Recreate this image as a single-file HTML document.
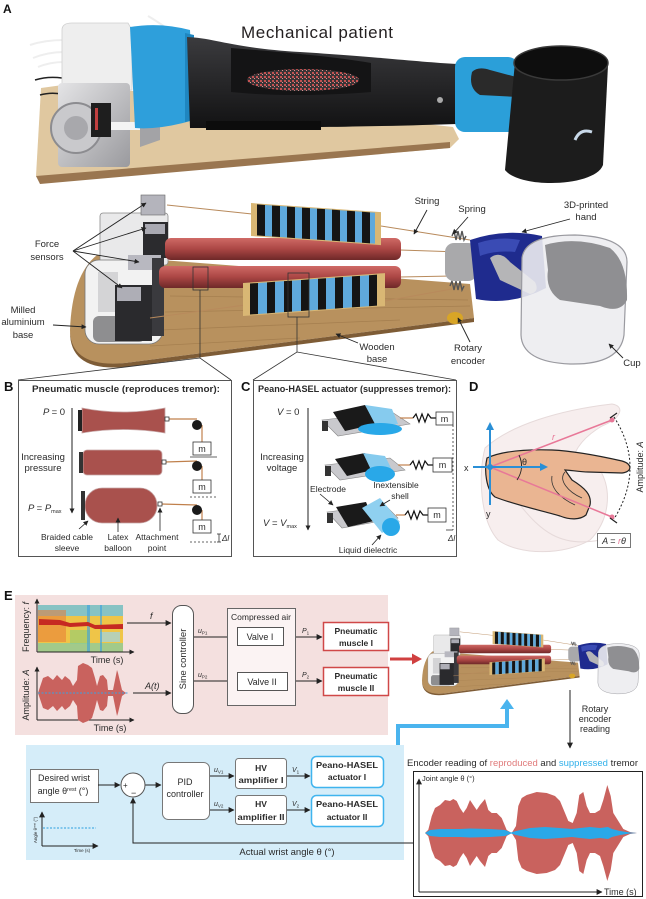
<!DOCTYPE html>
<html><head><meta charset="utf-8"><style>
html,body{margin:0;padding:0;background:#fff}
svg{display:block}
text{font-family:"Liberation Sans",sans-serif;fill:#2a2a2a}
</style></head><body>
<svg width="646" height="899" viewBox="0 0 646 899" xmlns="http://www.w3.org/2000/svg">
<defs>
<marker id="a" viewBox="0 0 10 10" refX="9" refY="5" markerWidth="5" markerHeight="5" orient="auto" markerUnits="userSpaceOnUse"><path d="M0,0L10,5L0,10z" fill="#222"/></marker>
<marker id="b" viewBox="0 0 10 10" refX="9" refY="5" markerWidth="6" markerHeight="6" orient="auto" markerUnits="userSpaceOnUse"><path d="M0,0L10,5L0,10z" fill="#222"/></marker>
<linearGradient id="tube" x1="0" y1="0" x2="0" y2="1"><stop offset="0" stop-color="#cf6a66"/><stop offset=".5" stop-color="#ab4644"/><stop offset="1" stop-color="#6e2828"/></linearGradient>
<linearGradient id="arm" x1="0" y1="0" x2="0" y2="1"><stop offset="0" stop-color="#3b3b3e"/><stop offset="1" stop-color="#121213"/></linearGradient>
<linearGradient id="silver" x1="0" y1="0" x2="1" y2="1"><stop offset="0" stop-color="#e4e4e6"/><stop offset="1" stop-color="#9a9a9e"/></linearGradient>
<pattern id="braid" width="4" height="4" patternUnits="userSpaceOnUse"><rect width="4" height="4" fill="#3a3436"/><rect width="2" height="2" fill="#c45252"/><rect x="2" y="2" width="1" height="1" fill="#e09090"/></pattern>
<g id="dev">
 <path d="M97,255 L470,284 L474,318 L125,363 Q70,370 70,330 Q72,275 97,255 Z" fill="#b8915e"/>
 <path d="M70,332 Q70,372 125,367 L474,322 L474,318 L125,363 Q72,368 70,332Z" fill="#7e5c36"/>
 <g stroke="#9a7446" stroke-width="0.8" opacity="0.6" fill="none">
  <path d="M170,296 L468,300"/><path d="M165,312 L470,306"/><path d="M160,330 L400,320"/><path d="M150,346 L300,338"/>
 </g>
 <rect x="100" y="213" width="68" height="52" rx="3" fill="#e9e9ea" stroke="#8a8a8a" stroke-width="0.8"/>
 <rect x="85" y="260" width="78" height="84" rx="14" fill="#f2f2f2" stroke="#777" stroke-width="0.8"/>
 <rect x="93" y="316" width="52" height="26" rx="6" fill="#8e8e90"/>
 <rect x="98" y="272" width="20" height="40" fill="#d4d4d6"/>
 <rect x="141" y="195" width="24" height="20" fill="#b4b4bc" stroke="#666" stroke-width=".6"/>
 <rect x="143" y="222" width="25" height="36" fill="#2b2b2e"/>
 <rect x="145" y="224" width="20" height="10" fill="#a9a9b2"/>
 <rect x="128" y="255" width="33" height="15" fill="#b8b8c0"/>
 <rect x="115" y="285" width="37" height="56" fill="#2a2a2d"/>
 <rect x="117" y="287" width="24" height="14" fill="#aeaeb6"/>
 <rect x="152" y="258" width="12" height="78" fill="#3a3a3e"/>
 <g stroke="#b88a5c" stroke-width="1.1">
  <line x1="167" y1="205" x2="252" y2="214"/>
  <line x1="381" y1="226" x2="470" y2="240"/>
  <line x1="400" y1="250" x2="460" y2="252"/>
  <line x1="400" y1="277" x2="452" y2="276"/>
  <line x1="385" y1="301" x2="452" y2="289"/>
  <line x1="150" y1="318" x2="245" y2="305"/>
 </g>
 <rect x="165" y="238" width="236" height="22" rx="6" fill="url(#tube)"/>
 <rect x="159" y="266" width="242" height="22" rx="6" fill="url(#tube)"/>
 <g transform="translate(251,203) skewY(4)">
  <rect x="0" y="0" width="130" height="33" fill="#d9b774"/>
  <g>
   <rect x="6" y="1" width="8" height="31" fill="#151515"/><rect x="14" y="1" width="7" height="31" fill="#5fa9dc"/>
   <rect x="21" y="1" width="8" height="31" fill="#151515"/><rect x="29" y="1" width="7" height="31" fill="#5fa9dc"/>
   <rect x="36" y="1" width="8" height="31" fill="#151515"/><rect x="44" y="1" width="7" height="31" fill="#5fa9dc"/>
   <rect x="51" y="1" width="8" height="31" fill="#151515"/><rect x="59" y="1" width="7" height="31" fill="#5fa9dc"/>
   <rect x="66" y="1" width="8" height="31" fill="#151515"/><rect x="74" y="1" width="7" height="31" fill="#5fa9dc"/>
   <rect x="81" y="1" width="8" height="31" fill="#151515"/><rect x="89" y="1" width="7" height="31" fill="#5fa9dc"/>
   <rect x="96" y="1" width="8" height="31" fill="#151515"/><rect x="104" y="1" width="7" height="31" fill="#5fa9dc"/>
   <rect x="111" y="1" width="8" height="31" fill="#151515"/><rect x="119" y="1" width="5" height="31" fill="#5fa9dc"/>
  </g>
 </g>
 <g transform="translate(243,283) skewY(-4)">
  <rect x="0" y="0" width="142" height="33" fill="#d9b774"/>
  <rect x="7" y="1" width="8" height="31" fill="#151515"/><rect x="15" y="1" width="9" height="31" fill="#5fa9dc"/>
  <rect x="24" y="1" width="8" height="31" fill="#151515"/><rect x="32" y="1" width="9" height="31" fill="#5fa9dc"/>
  <rect x="41" y="1" width="8" height="31" fill="#151515"/><rect x="49" y="1" width="9" height="31" fill="#5fa9dc"/>
  <rect x="58" y="1" width="8" height="31" fill="#151515"/><rect x="66" y="1" width="9" height="31" fill="#5fa9dc"/>
  <rect x="75" y="1" width="8" height="31" fill="#151515"/><rect x="83" y="1" width="9" height="31" fill="#5fa9dc"/>
  <rect x="92" y="1" width="8" height="31" fill="#151515"/><rect x="100" y="1" width="9" height="31" fill="#5fa9dc"/>
  <rect x="109" y="1" width="8" height="31" fill="#151515"/><rect x="117" y="1" width="9" height="31" fill="#5fa9dc"/>
  <rect x="126" y="1" width="8" height="31" fill="#151515"/>
 </g>
 <polyline points="452,236 454,231 456,240 458,231 460,240 462,231 464,240 466,236" fill="none" stroke="#555" stroke-width="1.4"/>
 <polyline points="450,286 452,281 454,290 456,281 458,290 460,281 462,290 464,286" fill="none" stroke="#555" stroke-width="1.4"/>
 <rect x="445" y="243" width="32" height="38" rx="9" fill="#a9a9ab"/>
 <path d="M470,240 Q505,228 542,236 L546,288 Q512,306 476,299 Z" fill="#1f2b8e"/>
 <path d="M478,243 Q500,236 520,240 L515,252 Q495,250 480,256 Z" fill="#3a4bb4"/>
 <path d="M490,258 Q500,250 510,262 L535,282 Q540,292 530,294 L500,280 Z" fill="#b5b5b7"/>
 <path d="M522,258 Q525,235 575,235 Q627,237 627,262 L624,335 Q620,365 570,364 Q522,362 521,335 Z" fill="#ececef" fill-opacity=".9" stroke="#9a9aa0" stroke-width="1.2"/>
 <path d="M545,245 Q575,236 610,248 Q628,262 627,300 Q620,314 600,306 L560,300 Q545,290 548,270 Z" fill="#8f8f92"/>
 <ellipse cx="455" cy="318" rx="8" ry="6" fill="#d8a526"/>
</g>
</defs>

<!-- ===== Panel A photo ===== -->
<text x="3" y="13" font-size="12" font-weight="bold" style="fill:#111">A</text>
<polygon points="41,88 70,84 453,127 459,139 450,148 40,183 36,176" fill="#e0c8a0"/>
<polygon points="36,176 450,142 450,148 40,184" fill="#9a7650"/>
<g stroke="#eee" stroke-width="2" fill="none">
 <path d="M30,45 Q45,40 64,40"/><path d="M33,58 Q48,52 64,52"/><path d="M38,67 Q50,62 64,62"/><path d="M148,16 Q155,20 165,27"/>
</g>
<g stroke="#222" stroke-width="1.5" fill="none"><path d="M35,80 Q48,76 62,78"/><path d="M40,95 Q50,92 62,94"/></g>
<path d="M62,30 Q62,23 72,23 L128,23 L132,30 L132,90 L62,90 Z" fill="#eeeeee" stroke="#d0d0d0" stroke-width=".8"/>
<rect x="58" y="83" width="72" height="84" rx="4" fill="url(#silver)"/>
<circle cx="76" cy="128" r="25" fill="#c9c9cc" stroke="#8c8c90" stroke-width="2"/>
<circle cx="76" cy="128" r="12" fill="#a8a8ac"/>
<rect x="91" y="103" width="20" height="34" fill="#1e1e1e"/>
<rect x="95" y="108" width="3" height="22" fill="#c04040"/>
<rect x="111" y="122" width="33" height="8" fill="#f4f4f4"/>
<path d="M140,100 L170,100 L173,112 L160,115 L160,140 L140,147 Z" fill="#a3a3a6"/>
<path d="M130,27 Q160,22 190,30 L194,120 Q160,130 135,128 Z" fill="#2e9fdb"/>
<path d="M185,33 L194,35 L194,120 L185,122 Z" fill="#1f86c0"/>
<path d="M187,37 C215,38 232,48 300,52 C380,57 420,62 457,64 L457,124 C400,126 300,128 190,128 Z" fill="url(#arm)"/>
<path d="M231,48 C280,52 330,56 371,63 L371,92 C320,96 270,96 231,92 Z" fill="#141415"/>
<ellipse cx="303" cy="80" rx="56" ry="11" fill="url(#braid)"/>
<rect x="206" y="121" width="115" height="9" fill="#0c0c0c"/>
<circle cx="440" cy="100" r="3" fill="#aaa"/>
<rect x="455" y="57" width="63" height="75" rx="10" fill="#2b9fd9"/>
<path d="M472,72 Q478,66 490,70 L520,78 Q528,90 518,97 L480,95 Q468,88 472,72 Z" fill="#2a2a2a"/>
<path d="M515,62 C540,42 600,45 608,65 L603,165 C595,187 520,189 505,170 Z" fill="#1c1c1c"/>
<ellipse cx="561" cy="63" rx="47" ry="17" fill="#0e0e0e" stroke="#3a3a3a" stroke-width="1.5"/>
<path d="M575,140 Q580,128 592,132" stroke="#c8d8e8" stroke-width="3" fill="none"/>
<text x="317" y="38" font-size="17" text-anchor="middle" textLength="152" style="fill:#231f20">Mechanical patient</text>

<!-- ===== Panel A render ===== -->
<use href="#dev"/>
<rect x="193" y="267" width="15" height="23" fill="none" stroke="#333" stroke-width=".8"/>
<rect x="288" y="273" width="21" height="44" fill="none" stroke="#333" stroke-width=".8"/>
<g stroke="#333" stroke-width=".8" fill="none">
 <polyline points="18,380 200,358 231,380"/><line x1="200" y1="290" x2="200" y2="358"/>
 <polyline points="253,380 297,352 456,380"/><line x1="297" y1="317" x2="297" y2="352"/>
</g>
<g stroke="#222" stroke-width=".9" marker-end="url(#a)">
 <line x1="73" y1="251" x2="146" y2="203"/>
 <line x1="73" y1="251" x2="146" y2="228"/>
 <line x1="73" y1="251" x2="139" y2="262"/>
 <line x1="73" y1="251" x2="122" y2="288"/>
 <line x1="53" y1="325" x2="86" y2="327"/>
 <line x1="427" y1="210" x2="414" y2="234"/>
 <line x1="468" y1="217" x2="453" y2="234"/>
 <line x1="570" y1="219" x2="522" y2="232"/>
 <line x1="358" y1="343" x2="336" y2="334"/>
 <line x1="470" y1="342" x2="458" y2="318"/>
 <line x1="623" y1="358" x2="609" y2="344"/>
</g>
<g font-size="9.5" text-anchor="middle">
 <text x="47" y="247">Force</text><text x="47" y="260">sensors</text>
 <text x="23" y="313">Milled</text><text x="23" y="325">aluminium</text><text x="23" y="338">base</text>
 <text x="427" y="204">String</text><text x="472" y="212">Spring</text>
 <text x="586" y="208">3D-printed</text><text x="586" y="220">hand</text>
 <text x="377" y="350">Wooden</text><text x="377" y="362">base</text>
 <text x="468" y="351">Rotary</text><text x="468" y="364">encoder</text>
 <text x="632" y="366">Cup</text>
</g>

<!-- ===== Panels B C D ===== -->
<g font-size="13" font-weight="bold"><text x="4" y="391" style="fill:#111">B</text><text x="241" y="391" style="fill:#111">C</text><text x="469" y="391" style="fill:#111">D</text></g>
<rect x="18.5" y="380.5" width="213" height="176" fill="none" stroke="#555" stroke-width="1"/>
<rect x="253.5" y="380.5" width="203" height="176" fill="none" stroke="#555" stroke-width="1"/>
<text x="32" y="392" font-size="9.5" font-weight="bold" textLength="188" lengthAdjust="spacingAndGlyphs">Pneumatic muscle (reproduces tremor):</text>
<text x="258" y="392" font-size="9.5" font-weight="bold" textLength="193" lengthAdjust="spacingAndGlyphs">Peano-HASEL actuator (suppresses tremor):</text>

<!-- B -->
<g font-size="9.5">
 <text x="43" y="415" font-style="italic">P <tspan font-style="normal">= 0</tspan></text>
 <text x="43" y="460" text-anchor="middle">Increasing</text><text x="43" y="471" text-anchor="middle">pressure</text>
 <text x="28" y="511" font-style="italic">P <tspan font-style="normal">=</tspan> P<tspan font-size="5.5" dy="2" font-style="normal">max</tspan></text>
</g>
<line x1="72" y1="408" x2="72" y2="513" stroke="#222" stroke-width="1" marker-end="url(#a)"/>
<path d="M82,408 Q123,416 165,408 L165,433 Q123,426 82,433 Z" fill="#a9514d" stroke="#c8a8a8" stroke-width=".8"/>
<rect x="78" y="410" width="4" height="21" fill="#222"/>
<rect x="83" y="450" width="79" height="25" rx="4" fill="#a9514d" stroke="#c8a8a8" stroke-width=".8"/>
<rect x="79" y="452" width="4" height="21" fill="#333"/>
<rect x="85" y="488" width="72" height="35" rx="17" fill="#a9514d" stroke="#c8a8a8" stroke-width=".8"/>
<rect x="81" y="491" width="4" height="29" fill="#333"/>
<g stroke="#c0804c" stroke-width="1.2">
 <line x1="168" y1="419" x2="197" y2="419"/><line x1="202" y1="425" x2="202" y2="442"/>
 <line x1="165" y1="462" x2="197" y2="461"/><line x1="202" y1="466" x2="202" y2="480"/>
 <line x1="161" y1="504" x2="197" y2="505"/><line x1="202" y1="510" x2="202" y2="520"/>
</g>
<g fill="#fff" stroke="#333" stroke-width=".8">
 <rect x="165" y="417" width="4" height="4"/><rect x="162" y="460" width="4" height="4"/><rect x="158" y="502" width="4" height="4"/>
 <rect x="193" y="442" width="18" height="13"/><rect x="193" y="480" width="18" height="13"/><rect x="193" y="520" width="18" height="13"/>
</g>
<g fill="#1a1a1a"><circle cx="197" cy="425" r="5"/><circle cx="197" cy="466" r="5"/><circle cx="197" cy="510" r="5"/></g>
<g font-size="9" text-anchor="middle"><text x="202" y="452">m</text><text x="202" y="490">m</text><text x="202" y="530">m</text></g>
<line x1="190" y1="457" x2="217" y2="457" stroke="#333" stroke-width=".8"/>
<line x1="190" y1="497" x2="216" y2="497" stroke="#333" stroke-width=".8" stroke-dasharray="2,2"/>
<line x1="190" y1="542" x2="216" y2="542" stroke="#333" stroke-width=".8" stroke-dasharray="2,2"/>
<g stroke="#333" stroke-width=".8"><line x1="219" y1="534" x2="219" y2="542"/><line x1="217" y1="534" x2="221" y2="534"/><line x1="217" y1="542" x2="221" y2="542"/></g>
<text x="222" y="541" font-size="8" font-style="italic">Δl</text>
<g stroke="#222" stroke-width=".8" marker-end="url(#a)">
 <line x1="79" y1="529" x2="88" y2="521"/><line x1="118" y1="532" x2="118" y2="518"/><line x1="160" y1="531" x2="160" y2="508"/>
</g>
<g font-size="8.5" text-anchor="middle">
 <text x="67" y="540">Braided cable</text><text x="67" y="551">sleeve</text>
 <text x="118" y="540">Latex</text><text x="118" y="551">balloon</text>
 <text x="157" y="540">Attachment</text><text x="157" y="551">point</text>
</g>

<!-- C -->
<g font-size="9.5">
 <text x="277" y="415" font-style="italic">V <tspan font-style="normal">= 0</tspan></text>
 <text x="282" y="460" text-anchor="middle">Increasing</text><text x="282" y="471" text-anchor="middle">voltage</text>
 <text x="263" y="526" font-style="italic">V <tspan font-style="normal">=</tspan> V<tspan font-size="5.5" dy="2" font-style="normal">max</tspan></text>
</g>
<line x1="308" y1="408" x2="308" y2="530" stroke="#222" stroke-width="1" marker-end="url(#a)"/>
<!-- actuator 1 -->
<polygon points="322,420 392,412 410,424 338,436" fill="#c9c9cd" stroke="#888" stroke-width=".6"/>
<rect x="322" y="421" width="6" height="10" fill="#333"/>
<polygon points="333,412 365,405 376,424 345,431" fill="#1a1a1a"/>
<polygon points="365,405 392,409 398,424 376,426" fill="#86cbee"/>
<ellipse cx="380" cy="429" rx="22" ry="6" fill="#29a8e8"/>
<!-- actuator 2 -->
<polygon points="325,465 390,458 405,470 340,480" fill="#c9c9cd" stroke="#888" stroke-width=".6"/>
<rect x="325" y="466" width="6" height="10" fill="#333"/>
<polygon points="335,459 365,453 373,470 347,476" fill="#1a1a1a"/>
<polygon points="363,453 385,456 392,470 372,472" fill="#86cbee"/>
<ellipse cx="380" cy="474" rx="15" ry="8" fill="#29a8e8"/>
<!-- actuator 3 -->
<polygon points="327,512 385,505 398,518 342,528" fill="#c9c9cd" stroke="#888" stroke-width=".6"/>
<rect x="327" y="513" width="6" height="10" fill="#333"/>
<polygon points="336,507 366,502 374,521 348,527" fill="#1a1a1a"/>
<polygon points="362,508 380,498 400,522 382,533" fill="#8fd0f0"/>
<ellipse cx="391" cy="527" rx="9" ry="9" fill="#29a8e8"/>
<g stroke="#c0804c" stroke-width="1.2"><line x1="400" y1="418" x2="413" y2="418"/><line x1="398" y1="465" x2="410" y2="465"/><line x1="396" y1="515" x2="405" y2="515"/></g>
<g fill="none" stroke="#111" stroke-width="1.2">
 <polyline points="413,418 416,414 419,422 422,414 425,422 428,414 431,418 436,418"/>
 <polyline points="410,465 413,461 416,469 419,461 422,469 425,461 428,465 433,465"/>
 <polyline points="405,515 408,511 411,519 414,511 417,519 420,511 423,515 428,515"/>
</g>
<g fill="#fff" stroke="#333" stroke-width=".8"><rect x="436" y="412" width="17" height="13"/><rect x="433" y="458" width="19" height="14"/><rect x="428" y="508" width="18" height="14"/></g>
<g font-size="9" text-anchor="middle"><text x="444.5" y="422">m</text><text x="442.5" y="468">m</text><text x="437" y="518">m</text></g>
<line x1="453" y1="425" x2="453" y2="530" stroke="#333" stroke-width=".8" stroke-dasharray="2,2"/>
<g stroke="#333" stroke-width=".8"><line x1="446" y1="530" x2="453" y2="530"/></g>
<text x="448" y="541" font-size="8" font-style="italic">Δl</text>
<g stroke="#222" stroke-width=".8" marker-end="url(#a)">
 <line x1="320" y1="494" x2="333" y2="505"/><line x1="390" y1="500" x2="380" y2="506"/><line x1="372" y1="545" x2="381" y2="535"/>
</g>
<g font-size="8.5" text-anchor="middle">
 <text x="328" y="492">Electrode</text>
 <text x="396" y="488">Inextensible</text><text x="400" y="499">shell</text>
 <text x="368" y="553">Liquid dielectric</text>
</g>

<!-- D -->
<path d="M485,448 C510,425 560,410 612,404 C625,406 622,418 602,426 C585,436 575,448 572,462 L600,470 C612,490 610,520 590,540 C565,555 520,556 498,540 C480,520 478,475 485,448 Z" fill="#f7eeee" stroke="#e6dada" stroke-width="1"/>
<path d="M520,505 C540,530 560,548 600,540" fill="none" stroke="#e6dada" stroke-width="1"/>
<path d="M487,458 C500,452 520,449 552,450 C575,451 600,456 622,461 C633,464 632,472 622,473 L588,472 C580,472 570,470 565,470 L572,480 C585,488 592,495 590,505 L586,515 C580,520 570,520 560,516 C540,510 515,505 495,497 C486,490 484,470 487,458 Z" fill="#eab592" stroke="#222" stroke-width="1.2"/>
<g fill="none" stroke="#333" stroke-width=".8"><path d="M565,472 C558,480 568,492 582,498"/><path d="M552,476 C550,488 560,498 575,505"/></g>
<g stroke="#e87898" stroke-width="1.5"><line x1="490" y1="467" x2="612" y2="420"/><line x1="490" y1="467" x2="612" y2="517"/></g>
<g fill="#e87898"><circle cx="612" cy="420" r="2.5"/><circle cx="612" cy="517" r="2.5"/></g>
<text x="552" y="440" font-size="9" font-style="italic" style="fill:#e87898">r</text>
<path d="M519,455 Q525,468 517,480" fill="none" stroke="#222" stroke-width=".9"/>
<text x="522" y="465" font-size="9">θ</text>
<path d="M614,417 Q646,467 614,519" fill="none" stroke="#222" stroke-width="1" stroke-dasharray="2,2"/>
<g stroke="#222" stroke-width="1.2"><line x1="610" y1="418" x2="617" y2="413"/><line x1="610" y1="518" x2="617" y2="523"/></g>
<g stroke="#2a8fd6" stroke-width="2"><line x1="490" y1="505" x2="490" y2="428"/><line x1="473" y1="467" x2="542" y2="467"/></g>
<polygon points="490,422 486,430 494,430" fill="#2a8fd6"/><polygon points="548,467 540,463 540,471" fill="#2a8fd6"/>
<circle cx="490" cy="467" r="3" fill="#2a8fd6"/>
<text x="464" y="471" font-size="9">x</text><text x="486" y="517" font-size="9">y</text>
<text transform="translate(643,467) rotate(-90)" font-size="9" text-anchor="middle">Amplitude: <tspan font-style="italic">A</tspan></text>
<rect x="597.5" y="533.5" width="33" height="14" fill="#fff" stroke="#555" stroke-width=".8"/>
<text x="614" y="544" font-size="9" text-anchor="middle" font-style="italic">A <tspan font-style="normal">=</tspan> <tspan style="fill:#e87898">r</tspan>θ</text>

<!-- ===== Panel E ===== -->
<text x="4" y="600" font-size="13" font-weight="bold" style="fill:#111">E</text>
<rect x="15" y="595" width="373" height="140" fill="#f4e0df"/>
<rect x="26" y="745" width="378" height="115" fill="#d5edf9"/>
<!-- spectrogram -->
<rect x="38" y="605" width="85" height="47" fill="#efc548"/>
<rect x="38" y="605" width="85" height="11" fill="#74c2da" opacity=".85"/>
<rect x="38" y="610" width="28" height="32" fill="#e87a36" opacity=".55"/>
<rect x="70" y="630" width="20" height="14" fill="#8ccf78" opacity=".6"/>
<rect x="100" y="632" width="20" height="10" fill="#9fd4e6" opacity=".7"/>
<rect x="38" y="643" width="85" height="9" fill="#88cba0" opacity=".75"/>
<rect x="87" y="605" width="3" height="47" fill="#3aa0e0" opacity=".6"/><rect x="100" y="605" width="2" height="47" fill="#3aa0e0" opacity=".6"/>
<path d="M39,619 L60,620 L70,623 L88,622 L95,625 L123,624 L123,629 L95,629 L88,626 L70,627 L60,625 L39,625Z" fill="#c62a22"/>
<g stroke="#222" stroke-width="1" marker-end="url(#a)">
 <line x1="37" y1="652" x2="37" y2="599"/><line x1="37" y1="652" x2="134" y2="652"/>
 <line x1="37" y1="720" x2="37" y2="667"/><line x1="37" y1="720" x2="134" y2="720"/>
</g>
<path d="M38,693 L43,678 L48,676 L53,680 L57,675 L62,680 L65,676 L70,680 L73,686 L77,680 L78,666 L83,663 L88,665 L92,668 L95,678 L97,686 L100,676 L103,675 L107,680 L108,690 L113,690 L117,670 L118,673 L122,690 L126,693 L122,696 L118,713 L117,716 L113,696 L108,696 L107,706 L103,711 L100,710 L97,700 L95,708 L92,718 L88,721 L83,723 L78,720 L77,706 L73,700 L70,706 L65,710 L62,706 L57,711 L53,706 L48,710 L43,708 Z" fill="#c9625e"/>
<line x1="38" y1="693" x2="128" y2="693" stroke="#3aa0e0" stroke-width="1" stroke-dasharray="2,1.5"/>
<g font-size="9">
 <text transform="translate(29,627) rotate(-90)" text-anchor="middle">Frequency: <tspan font-style="italic">f</tspan></text>
 <text transform="translate(29,695) rotate(-90)" text-anchor="middle">Amplitude: <tspan font-style="italic">A</tspan></text>
 <text x="107" y="663" text-anchor="middle">Time (s)</text>
 <text x="110" y="731" text-anchor="middle">Time (s)</text>
 <text x="150" y="619" font-style="italic">f</text>
 <text x="145" y="689" font-style="italic">A(t)</text>
</g>
<g stroke="#222" stroke-width="1" marker-end="url(#b)">
 <line x1="127" y1="623" x2="171" y2="623"/><line x1="133" y1="693" x2="171" y2="693"/>
 <line x1="193" y1="637" x2="236" y2="637"/><line x1="193" y1="681" x2="236" y2="681"/>
 <line x1="283" y1="637" x2="322" y2="637"/><line x1="287" y1="681" x2="322" y2="681"/>
</g>
<rect x="172.5" y="605.5" width="21" height="108" rx="9" fill="#fff" stroke="#555"/>
<text transform="translate(186,659) rotate(-90)" font-size="9.5" text-anchor="middle">Sine controller</text>
<g font-size="7" font-style="italic">
 <text x="198" y="633">u<tspan font-size="4.5" dy="1.5" font-style="normal">P1</tspan></text>
 <text x="198" y="677">u<tspan font-size="4.5" dy="1.5" font-style="normal">P2</tspan></text>
 <text x="302" y="633">P<tspan font-size="4.5" dy="1.5" font-style="normal">1</tspan></text>
 <text x="302" y="677">P<tspan font-size="4.5" dy="1.5" font-style="normal">2</tspan></text>
</g>
<rect x="227.5" y="608.5" width="68" height="97" fill="#fbf3f3" stroke="#666"/>
<text x="261" y="620" font-size="8.5" text-anchor="middle">Compressed air</text>
<rect x="237.5" y="627.5" width="46" height="18" fill="#fff" stroke="#555"/>
<rect x="237.5" y="672.5" width="50" height="18" fill="#fff" stroke="#555"/>
<text x="260" y="640" font-size="9" text-anchor="middle">Valve I</text>
<text x="262" y="685" font-size="9" text-anchor="middle">Valve II</text>
<rect x="323.5" y="622.5" width="65" height="28" fill="#fff" stroke="#d04848" stroke-width="1.5"/>
<rect x="323.5" y="667.5" width="65" height="28" fill="#fff" stroke="#d04848" stroke-width="1.5"/>
<g font-size="8.5" font-weight="bold" text-anchor="middle">
 <text x="356" y="634">Pneumatic</text><text x="356" y="646">muscle I</text>
 <text x="356" y="679">Pneumatic</text><text x="356" y="691">muscle II</text>
</g>
<line x1="390" y1="659" x2="414" y2="659" stroke="#d04040" stroke-width="3"/>
<polygon points="422,659 412,653.5 412,664.5" fill="#d04040"/>
<use href="#dev" transform="translate(394.7,551.9) scale(0.39)"/>
<polyline points="398,745 398,726 507,726 507,708" fill="none" stroke="#4ab4ee" stroke-width="4"/>
<polygon points="507,699 500,709 514,709" fill="#4ab4ee"/>
<line x1="570" y1="690" x2="570" y2="748" stroke="#222" stroke-width="1" marker-end="url(#b)"/>
<g font-size="9" text-anchor="middle"><text x="595" y="712">Rotary</text><text x="595" y="722">encoder</text><text x="595" y="732">reading</text></g>
<text x="407" y="766" font-size="9.5" textLength="231" lengthAdjust="spacingAndGlyphs">Encoder reading of <tspan style="fill:#e07a7a">reproduced</tspan> and <tspan style="fill:#2fb0ea">suppressed</tspan> tremor</text>
<rect x="413.5" y="771.5" width="229" height="125" fill="#fff" stroke="#222"/>
<path d="M425,833 L428.3,829.7 L431.7,816.3 L435,808 L440,805 L445,800 L450,801 L453.3,799 L456.7,801 L460,808 L463.3,813 L466.7,808 L470,800 L473.3,805 L476.7,810 L480,805 L485,799 L488.3,810 L491.7,813 L496.7,813 L501.7,818 L506.7,830 L511.7,833 L516,826 L518.3,806 L521.7,798 L526.7,795 L536.7,792 L546.7,793 L555,796 L560,801 L565,813 L568.3,821 L572.7,823 L576.7,813 L579.3,795 L583.3,792 L586.7,806 L590,813 L595,813 L600,810 L603.3,800 L607.3,785 L610.7,796 L613.3,813 L618.3,821 L623.3,829 L630,832 L637,833 L630,834 L623.3,837 L618.3,845 L613.3,853 L610.7,870 L607.3,881 L603.3,866 L600,856 L595,853 L590,853 L586.7,860 L583.3,874 L579.3,871 L576.7,853 L572.7,843 L568.3,845 L565,853 L560,865 L555,870 L546.7,873 L536.7,874 L526.7,871 L521.7,868 L518.3,860 L516,840 L511.7,833 L506.7,836 L501.7,848 L496.7,853 L491.7,853 L488.3,856 L485,867 L480,861 L476.7,856 L473.3,861 L470,866 L466.7,858 L463.3,853 L460,858 L456.7,865 L453.3,867 L450,865 L445,866 L440,861 L435,858 L431.7,850 L428.3,836.3 Z" fill="#c9625e"/>
<path d="M425,833 L430,830 L440,829 L460,829 L470,828.5 L490,829 L505,830 L511,832.5 L516,831 L530,828 L545,827 L560,828 L572,829 L580,828 L590,827 L600,828 L608,827 L612,829 L620,831 L630,832.5 L637,833 L630,833.5 L620,835 L612,837 L608,839 L600,838 L590,839 L580,838 L572,837 L560,838 L545,839 L530,838 L516,835 L511,833.5 L505,836 L490,837 L470,837.5 L460,837 L440,837 L430,836 Z" fill="#2aa8e8"/>
<g stroke="#222" stroke-width="1" marker-end="url(#b)"><line x1="419" y1="892" x2="419" y2="779"/><line x1="419" y1="892" x2="602" y2="892"/></g>
<text x="422" y="781" font-size="7.5">Joint angle θ (°)</text>
<text x="604" y="895" font-size="9">Time (s)</text>

<!-- blue region -->
<rect x="30.5" y="769.5" width="68" height="33" fill="#fff" stroke="#777"/>
<text x="64" y="781" font-size="9" text-anchor="middle">Desired wrist</text>
<text x="63" y="794" font-size="9" text-anchor="middle">angle θ<tspan font-size="5.5" dy="-3">rest</tspan><tspan dy="3"> (°)</tspan></text>
<g stroke="#222" stroke-width="1" marker-end="url(#b)">
 <line x1="98" y1="785" x2="120" y2="785"/><line x1="145" y1="785" x2="161" y2="785"/>
 <line x1="209" y1="776" x2="234" y2="776"/><line x1="209" y1="810" x2="234" y2="810"/>
 <line x1="286" y1="776" x2="310" y2="776"/><line x1="286" y1="810" x2="310" y2="810"/>
 <polyline points="413,843 133,843 133,798" fill="none"/>
 <line x1="42" y1="846" x2="42" y2="812"/><line x1="42" y1="846" x2="98" y2="846"/>
</g>
<circle cx="133" cy="785" r="12" fill="#fff" stroke="#555"/>
<text x="123" y="788" font-size="8">+</text><text x="131" y="796" font-size="9">−</text>
<rect x="162.5" y="762.5" width="47" height="57" rx="6" fill="#fff" stroke="#777"/>
<text x="185" y="785" font-size="9" text-anchor="middle">PID</text><text x="185" y="797" font-size="9" text-anchor="middle">controller</text>
<g font-size="7" font-style="italic">
 <text x="214" y="772">u<tspan font-size="4.5" dy="1.5" font-style="normal">V1</tspan></text>
 <text x="214" y="806">u<tspan font-size="4.5" dy="1.5" font-style="normal">V2</tspan></text>
 <text x="292" y="772">V<tspan font-size="4.5" dy="1.5" font-style="normal">1</tspan></text>
 <text x="292" y="806">V<tspan font-size="4.5" dy="1.5" font-style="normal">2</tspan></text>
</g>
<rect x="235.5" y="758.5" width="51" height="30" rx="3" fill="#fff" stroke="#777"/>
<rect x="235.5" y="795.5" width="51" height="29" rx="3" fill="#fff" stroke="#777"/>
<g font-size="8.5" font-weight="bold" text-anchor="middle">
 <text x="261" y="771">HV</text><text x="261" y="783" textLength="45" lengthAdjust="spacingAndGlyphs">amplifier I</text>
 <text x="261" y="807">HV</text><text x="261" y="820" textLength="47" lengthAdjust="spacingAndGlyphs">amplifier II</text>
</g>
<rect x="311.5" y="756.5" width="72" height="31" rx="5" fill="#fff" stroke="#3fb4ee" stroke-width="1.5"/>
<rect x="311.5" y="795.5" width="72" height="31" rx="5" fill="#fff" stroke="#3fb4ee" stroke-width="1.5"/>
<g font-size="8.5" font-weight="bold" text-anchor="middle">
 <text x="347" y="768" textLength="62" lengthAdjust="spacingAndGlyphs">Peano-HASEL</text><text x="347" y="780">actuator I</text>
 <text x="347" y="807" textLength="62" lengthAdjust="spacingAndGlyphs">Peano-HASEL</text><text x="347" y="820">actuator II</text>
</g>
<text x="287" y="855" font-size="9.5" text-anchor="middle">Actual wrist angle θ (°)</text>
<line x1="43" y1="828" x2="96" y2="828" stroke="#2aa0e0" stroke-width="1" stroke-dasharray="2,1.5"/>
<text transform="translate(37,830) rotate(-90)" font-size="4.5" text-anchor="middle">Angle θ<tspan font-size="3" dy="-1.5">rest</tspan><tspan dy="1.5"> (°)</tspan></text>
<text x="82" y="852" font-size="4.5" text-anchor="middle">Time (s)</text>
</svg>
</body></html>
